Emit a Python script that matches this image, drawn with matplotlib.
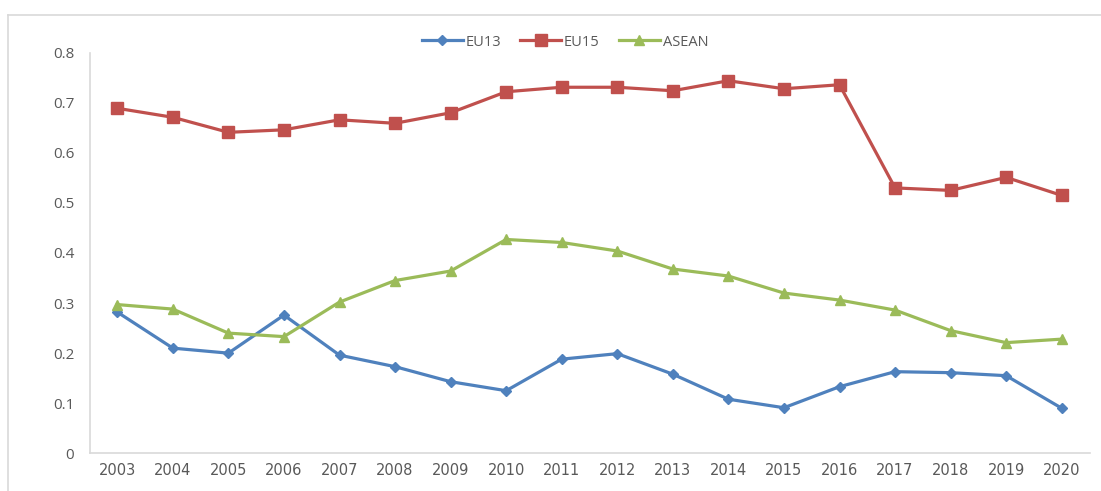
import matplotlib
matplotlib.use("Agg")
import matplotlib.pyplot as plt
from matplotlib.lines import Line2D

years = [str(y) for y in range(2003, 2021)]
eu13 = [0.282, 0.210, 0.200, 0.276, 0.196, 0.173, 0.143, 0.125, 0.188, 0.199,
        0.158, 0.108, 0.091, 0.133, 0.163, 0.161, 0.155, 0.090]
eu15 = [0.689, 0.671, 0.641, 0.646, 0.666, 0.659, 0.680, 0.722, 0.731, 0.731,
        0.724, 0.744, 0.728, 0.736, 0.530, 0.525, 0.551, 0.515]
asean = [0.297, 0.288, 0.240, 0.233, 0.302, 0.345, 0.364, 0.427, 0.421, 0.404,
         0.368, 0.354, 0.320, 0.306, 0.286, 0.245, 0.221, 0.228]
yticks = [0, 0.1, 0.2, 0.3, 0.4, 0.5, 0.6, 0.7, 0.8]
ytick_labels = ["0", "0.1", "0.2", "0.3", "0.4", "0.5", "0.6", "0.7", "0.8"]

W, H = 1101, 491
fig = plt.figure(figsize=(W / 100, H / 100), dpi=100)
fig.patch.set_facecolor("white")

# outer chart border (extends past the right and bottom edges)
fig.add_artist(Line2D([8 / W, 8 / W], [0, 1 - 15 / H], transform=fig.transFigure,
                      color="#D9D9D9", lw=1.2))
fig.add_artist(Line2D([8 / W, 1.0], [1 - 15 / H, 1 - 15 / H], transform=fig.transFigure,
                      color="#D9D9D9", lw=1.2))

left, right, top, bottom = 89.5, 1089.5, 52.7, 453.3
ax = fig.add_axes([left / W, 1 - bottom / H, (right - left) / W, (bottom - top) / H])

x = list(range(len(years)))
ax.plot(x, eu13, color="#4F81BD", lw=2.3, marker="D", ms=5.5, label="EU13")
ax.plot(x, eu15, color="#C0504D", lw=2.3, marker="s", ms=8, label="EU15")
ax.plot(x, asean, color="#9BBB59", lw=2.3, marker="^", ms=7.5, label="ASEAN")

ax.set_xlim(-0.5, len(years) - 0.5)
ax.set_ylim(0, 0.8)
ax.set_xticks(x)
ax.set_xticklabels(years, fontsize=10.5, color="#595959", family="DejaVu Sans")
ax.set_yticks(yticks)
ax.set_yticklabels(ytick_labels, fontsize=11, color="#595959", family="Open Sans")
ax.tick_params(axis="both", length=0)
ax.tick_params(axis="x", pad=7)
ax.tick_params(axis="y", pad=11)

for s in ["top", "right"]:
    ax.spines[s].set_visible(False)
for s in ["left", "bottom"]:
    ax.spines[s].set_color("#D9D9D9")
    ax.spines[s].set_linewidth(1.2)

leg = ax.legend(loc="center", bbox_to_anchor=(565 / W, 1 - 42 / H),
                bbox_transform=fig.transFigure, ncol=3, frameon=False,
                handlelength=2.8, columnspacing=1.3, handletextpad=0.2,
                prop={"family": "Open Sans", "size": 10.5})
for t in leg.get_texts():
    t.set_color("#595959")

fig.savefig("out.png", dpi=100)
